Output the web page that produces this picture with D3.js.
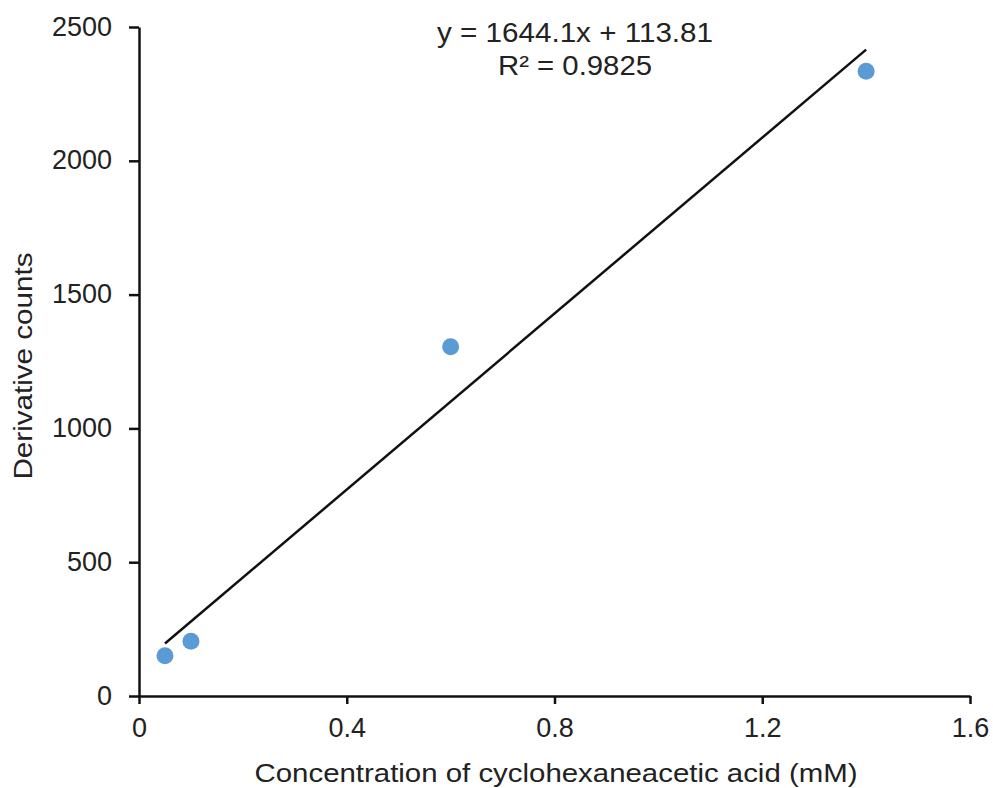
<!DOCTYPE html>
<html>
<head>
<meta charset="utf-8">
<script src="https://cdn.jsdelivr.net/npm/d3@7"></script>
<style>
  body { margin: 0; background: #fff; }
  text { font-family: "Liberation Sans", Arial, sans-serif; fill: #222; }
</style>
</head>
<body>
<div id="container"></div>
<script>
const width = 993;
const height = 788;

// data
const concentration = [0.05, 0.1, 0.6, 1.4];
const counts = [150, 205, 1305, 2335];
const slope = 1644.1;
const intercept = 113.81;
const xTicks = [0, 0.4, 0.8, 1.2, 1.6];
const yTicks = [0, 500, 1000, 1500, 2000, 2500];
const equationLines = ["y = 1644.1x + 113.81", "R\u00b2 = 0.9825"];
const equationWidths = [276, 154];

const margin = {top: 27, right: 23, bottom: 92, left: 139};

const svg = d3.select("#container")
              .append("svg")
              .attr("width", width)
              .attr("height", height);

const x = d3.scaleLinear()
            .domain([0, 1.6])
            .range([margin.left, width - margin.right]);
const y = d3.scaleLinear()
            .domain([0, 2500])
            .range([height - margin.bottom, margin.top]);

const xAxis = d3.axisBottom(x)
                .tickValues(xTicks)
                .tickFormat(d => d === 0 ? "0" : d3.format(".1f")(d))
                .tickSizeInner(8)
                .tickSizeOuter(0)
                .tickPadding(14);
const yAxis = d3.axisLeft(y)
                .tickValues(yTicks)
                .tickFormat(d3.format("d"))
                .tickSizeInner(10)
                .tickSizeOuter(0)
                .tickPadding(17);

const gx = svg.append("g")
              .attr("transform", "translate(0," + (height - margin.bottom) + ")")
              .call(xAxis);
const gy = svg.append("g")
              .attr("transform", "translate(" + margin.left + ",0)")
              .call(yAxis);

[gx, gy].forEach(g => {
  g.select(".domain").attr("stroke", "#111").attr("stroke-width", 2.5);
  g.selectAll(".tick line").attr("stroke", "#111").attr("stroke-width", 2.5);
  g.selectAll(".tick text")
   .style("font-family", "'Liberation Sans', Arial, sans-serif")
   .style("font-size", "27px")
   .attr("fill", "#222");
});
gy.selectAll(".tick text").attr("dy", "0.3em");

// trend line over the data range
const xMin = d3.min(concentration);
const xMax = d3.max(concentration);
svg.append("line")
   .attr("x1", x(xMin))
   .attr("y1", y(slope * xMin + intercept))
   .attr("x2", x(xMax))
   .attr("y2", y(slope * xMax + intercept))
   .attr("stroke", "#111")
   .attr("stroke-width", 2.5);

svg.append("g")
   .selectAll("circle")
   .data(concentration)
   .enter()
   .append("circle")
   .attr("cx", d => x(d))
   .attr("cy", (d, i) => y(counts[i]))
   .attr("r", 8.5)
   .attr("fill", "#5B9BD5");

svg.append("g")
   .selectAll("text")
   .data(equationLines)
   .enter()
   .append("text")
   .attr("x", 575 )
   .attr("y", (d, i) => 42 + i * 33)
   .attr("text-anchor", "middle")
   .attr("textLength", (d, i) => equationWidths[i])
   .attr("lengthAdjust", "spacingAndGlyphs")
   .style("font-size", "27px")
   .text(d => d);

svg.append("text")
   .attr("x", 556)
   .attr("y", 782)
   .attr("text-anchor", "middle")
   .attr("textLength", 603)
   .attr("lengthAdjust", "spacingAndGlyphs")
   .style("font-size", "26px")
   .text("Concentration of cyclohexaneacetic acid (mM)");

svg.append("text")
   .attr("transform", "translate(32,366) rotate(-90)")
   .attr("text-anchor", "middle")
   .attr("textLength", 227)
   .attr("lengthAdjust", "spacingAndGlyphs")
   .style("font-size", "26px")
   .text("Derivative counts");
</script>
</body>
</html>
